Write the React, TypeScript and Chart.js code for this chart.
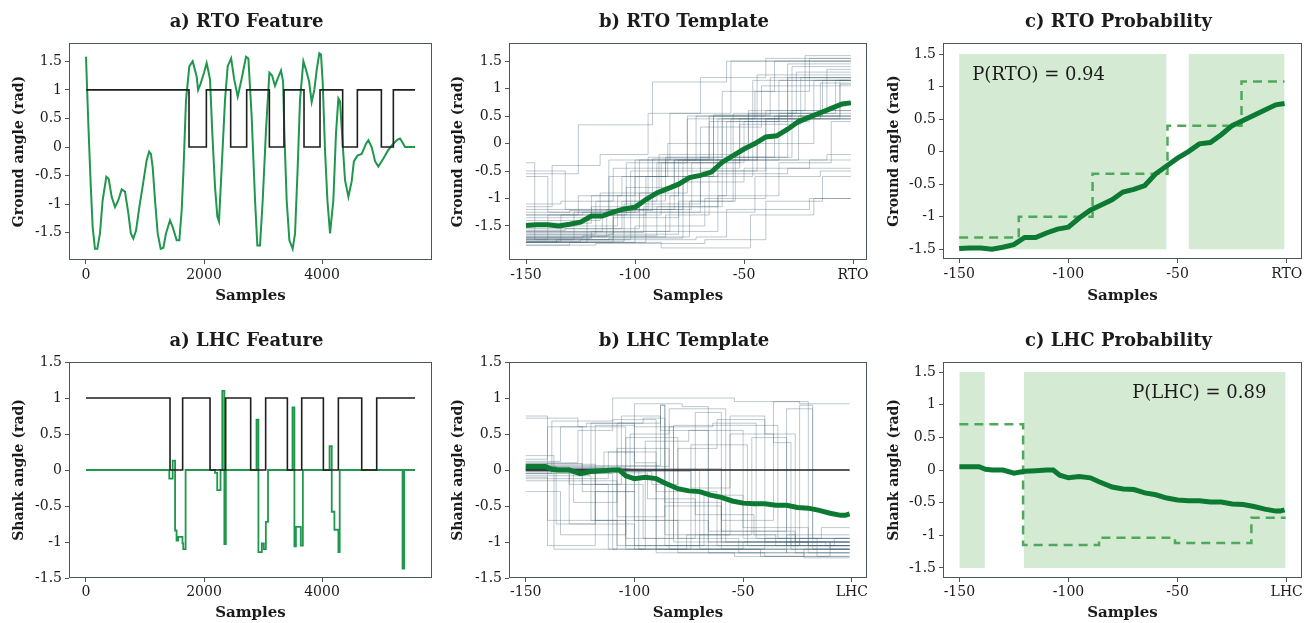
import React, { useEffect, useRef } from 'react';
import { Chart, registerables } from 'chart.js';
Chart.register(...registerables);

const SERIF = '"DejaVu Serif", "Liberation Serif", serif';
const TEXT = '#1b1b1b';
const FRAME = '#4a565b';
const GREEN_FEAT = '#1f974d';
const GREEN_MEAN = '#0c7a32';
const GREEN_DASH = '#4fa95a';
const SHADE = '#d4ead3';
const TRACE = 'rgba(65,95,110,0.34)';
const BLACK = '#1e1e1e';

// ---------- tick labels ----------
const featureXTicks = [0, 2000, 4000];
const featureXLabels = ['0', '2000', '4000'];
const windowXTicks = [-150, -100, -50, 0];
const rtoXLabels = ['-150', '-100', '-50', 'RTO'];
const lhcXLabels = ['-150', '-100', '-50', 'LHC'];
const yTicks = [-1.5, -1, -0.5, 0, 0.5, 1, 1.5];
const yLabels = ['-1.5', '-1', '-0.5', '0', '0.5', '1', '1.5'];
const TEMPLATE_END = -1;

// ---------- a) RTO feature ----------
const rtoFeatureAngle = [
  [0, 1.58], [40, 0.39], [79, -0.64], [113, -1.4], [152, -1.78], [192, -1.78], [237, -1.51], [282, -0.93],
  [345, -0.52], [385, -0.56], [435, -0.87], [492, -1.05], [548, -0.93], [605, -0.74], [661, -0.78],
  [718, -1.16], [760, -1.51], [802, -1.6], [848, -1.46], [904, -1.05], [972, -0.61], [1028, -0.23],
  [1070, -0.08], [1100, -0.12], [1130, -0.35], [1170, -0.93], [1215, -1.51], [1266, -1.78], [1311, -1.76],
  [1356, -1.51], [1424, -1.28], [1469, -1.4], [1537, -1.63], [1582, -1.63], [1622, -1.1], [1650, -0.46],
  [1695, 0.82], [1751, 1.41], [1808, 1.5], [1876, 1.23], [1900, 1.0], [1940, 1.1], [2000, 1.3],
  [2045, 1.47], [2080, 1.3], [2102, 1.18], [2141, 0.24], [2187, -0.7], [2226, -1.22], [2254, -1.3],
  [2300, -0.35], [2356, 0.82], [2401, 1.41], [2460, 1.55], [2509, 1.2], [2571, 0.88], [2639, 1.2],
  [2712, 1.58], [2752, 1.55], [2808, 0.53], [2865, -0.93], [2904, -1.72], [2949, -1.72], [2995, -0.93],
  [3051, 0.3], [3108, 1.3], [3153, 1.25], [3203, 1.07], [3250, 1.2], [3305, 1.34], [3340, 1.15],
  [3362, 0.24], [3401, -0.93], [3447, -1.63], [3503, -1.78], [3543, -1.51], [3588, -0.35], [3627, 0.82],
  [3684, 1.5], [3729, 1.35], [3780, 1.15], [3825, 0.79], [3870, 1.0], [3910, 1.35], [3955, 1.64],
  [3983, 1.62], [4012, 1.12], [4051, -0.05], [4091, -0.93], [4136, -1.51], [4192, -0.93], [4237, 0.24],
  [4277, 0.85], [4305, 0.8], [4350, 0.06], [4390, -0.58], [4447, -0.87], [4503, -0.6], [4540, -0.25],
  [4600, -0.15], [4673, -0.12], [4746, 0.06], [4786, 0.12], [4842, 0.0], [4900, -0.25], [4955, -0.34],
  [5040, -0.2], [5124, -0.05], [5200, 0.05], [5280, 0.13], [5322, 0.15], [5351, 0.1], [5407, 0.0], [5577, 0.0],
];
const rtoFeatureGate = [
  [0, 1], [1746, 0], [2040, 1], [2452, 0], [2723, 1], [3108, 0], [3356, 1], [3695, 0], [3966, 1],
  [4350, 0], [4599, 1], [5006, 0], [5209, 1], [5577, 1],
];

// ---------- a) LHC feature ----------
const lhcFeatureAngle = [
  [0, 0], [1412, -0.12], [1469, 0.13], [1510, -0.84], [1535, -0.98], [1562, -0.93], [1635, -1.02],
  [1648, -1.1], [1688, 0], [2187, -0.04], [2224, -0.28], [2280, 0], [2310, 1.1], [2345, -1.03],
  [2370, 0], [2890, 0.7], [2922, -1.14], [2980, -1.02], [3013, -1.1], [3048, -0.72], [3085, 0],
  [3500, 0.87], [3532, -1.06], [3558, -0.79], [3640, -1.05], [3675, 0], [4128, 0.33], [4165, -0.58],
  [4210, -0.83], [4278, -1.14], [4300, 0], [5365, -1.37], [5393, 0], [5577, 0],
];
const lhcFeatureGate = [
  [0, 1], [1424, 0], [1638, 1], [2102, 0], [2367, 1], [2791, 0], [3045, 1], [3413, 0], [3656, 1],
  [4023, 0], [4277, 1], [4673, 0], [4927, 1], [5577, 1],
];

// ---------- b) RTO template: individual windows (switch sample, level, ...) ----------
const rtoTemplateTraces = [
  [-150, -1.8, -122, -1.3, -88, -0.35, -52, 0.45, -18, 1.15],
  [-150, -1.75, -128, -1.25, -100, -0.6, -64, 0.5, -30, 1.2],
  [-150, -1.7, -113, -1.2, -82, -0.3, -48, 0.55, -12, 1.35],
  [-150, -1.78, -105, -1.1, -70, -0.25, -36, 0.5, -6, 1.15],
  [-150, -1.65, -118, -1.05, -90, -0.35, -60, 0.95, -36, 1.5],
  [-150, -0.35, -146, -1.75, -110, -1.2, -78, -0.3, -40, 0.45],
  [-150, -0.55, -126, 0.34, -92, 1.12, -58, 1.5],
  [-150, -0.6, -140, -1.25, -112, -0.6, -85, 0.0, -48, 0.6, -22, 1.6],
  [-150, -1.85, -130, -1.8, -95, -1.25, -70, -0.5, -40, 0.45, -15, 1.1],
  [-150, -1.8, -100, -1.7, -75, -1.05, -55, -0.3, -25, 0.5],
  [-150, -1.72, -120, -1.6, -84, -0.95, -58, -0.25, -30, 0.55],
  [-150, -1.6, -115, -1.3, -95, -0.6, -62, 0.45, -30, 1.45],
  [-150, -1.5, -108, -0.95, -80, -0.3, -44, 0.5, -14, 1.15],
  [-150, -1.4, -116, -0.9, -89, -0.2, -55, 0.55, -26, 1.3],
  [-150, -1.3, -124, -1.25, -98, -0.3, -66, 0.4, -34, 1.15],
  [-150, -1.2, -120, -1.15, -102, -0.5, -70, 0.3, -42, 1.05],
  [-150, -1.1, -134, -1.05, -110, -0.45, -76, 0.45, -45, 0.95, -20, 1.55],
  [-150, -1.78, -125, -1.75, -72, -1.7, -58, -1.2, -20, -1.0],
  [-150, -1.8, -88, -1.9, -47, -1.3, -18, -1.0],
  [-150, -1.75, -112, -1.72, -78, -1.25, -45, -0.6, -15, -0.5],
  [-150, -1.7, -100, -1.5, -68, -1.0, -40, -0.3, -12, -0.2],
  [-150, -1.65, -110, -1.35, -80, -0.7, -50, -0.45, -20, -0.3],
  [-150, -1.6, -96, -1.15, -62, -0.55, -30, -0.45],
  [-150, -1.55, -106, -1.05, -86, -0.3, -58, 0.4, -30, 0.45],
  [-150, -1.45, -120, -1.2, -94, -0.25, -66, 0.5, -40, 0.6],
  [-150, -1.35, -118, -1.3, -104, -0.35, -76, 0.5, -46, 1.15],
  [-150, -1.25, -130, -1.22, -92, -0.28, -64, 0.52, -38, 1.2],
  [-150, -1.78, -134, -1.3, -112, -0.3, -84, 0.55, -56, 1.5],
  [-150, -1.8, -136, -1.75, -102, -1.2, -74, -0.35, -50, 0.4, -20, 0.5],
  [-150, -1.72, -124, -1.68, -90, -1.15, -60, -0.3, -34, 0.55, -8, 1.15],
  [-150, -1.68, -112, -1.65, -80, -1.05, -54, -0.25, -28, 0.45, -6, 1.08],
  [-150, -1.62, -96, -1.6, -62, -0.95, -34, -0.35, -10, 0.4],
  [-150, -1.85, -118, -1.82, -68, -1.75, -40, -1.05, -14, -0.6],
  [-150, -1.75, -140, -1.3, -120, -0.95, -100, -0.3, -72, 0.5, -44, 1.25],
  [-150, -0.5, -132, -1.2, -104, -0.8, -82, -0.3, -56, 0.45, -28, 1.4],
  [-150, -1.15, -138, -0.4, -116, -0.2, -94, 0.55, -70, 1.2, -40, 1.55],
  [-150, -1.3, -126, -0.95, -106, -0.6, -86, -0.25, -60, 0.45, -34, 0.5],
  [-150, -1.58, -132, -1.55, -98, -0.9, -76, -0.45, -52, 0.35, -24, 1.2],
  [-150, -1.8, -110, -1.25, -78, -0.6, -46, 0.5, -28, 0.6],
  [-150, -1.72, -120, -1.7, -86, -1.3, -66, -0.5, -44, 0.0, -18, 0.45],
];

// ---------- b) LHC template: individual windows ----------
const lhcTemplateTraces = [
  [-150, 0.75, -140, -0.7, -108, -1.05, -60, -1.1],
  [-150, 0.72, -126, 0.6, -104, -1.1, -50, -1.0],
  [-150, 0.2, -137, -1.1, -108, 0.65, -88, 0.9, -86, -1.05],
  [-150, 0.15, -140, 0.6, -122, 0.65, -100, 0.1, -90, -1.1, -30, -1.15],
  [-150, 0.05, -136, -0.75, -118, 0.62, -100, 0.6, -82, -1.0, -12, -1.05],
  [-150, -0.1, -140, -1.05, -118, -0.3, -100, -1.1],
  [-150, 0.1, -126, 0.55, -110, 1.0, -54, 0.95, -20, 0.92],
  [-150, 0.0, -120, 0.65, -96, 0.72, -86, -0.45, -60, -1.05, -30, -0.9],
  [-150, -0.3, -134, -0.9, -104, 0.45, -80, -1.15, -40, -1.2],
  [-150, 0.08, -118, -0.2, -106, 0.75, -88, 0.55, -66, -0.85, -26, -1.0],
  [-150, 0.02, -102, 0.5, -84, 0.85, -70, 0.85, -58, -1.0, -10, -1.1],
  [-150, -0.05, -110, -1.1, -95, 0.4, -75, 0.55, -50, -0.8, -20, -1.05],
  [-150, 0.12, -134, 0.6, -124, -0.2, -96, -0.95, -72, 0.8, -60, -1.0],
  [-150, 0.0, -98, -1.1, -74, 0.35, -48, -1.05, -24, 0.9, -18, -0.95],
  [-150, -0.02, -92, -0.2, -80, 0.3, -62, 0.7, -40, 0.5, -26, -1.15],
  [-150, 0.04, -130, -0.75, -100, -1.05, -70, -0.9, -35, -1.05],
  [-150, 0.06, -88, 0.9, -86, -0.9, -56, 0.75, -40, -1.0],
  [-150, -0.12, -112, 0.25, -90, -0.7, -66, -1.15, -30, -1.0],
  [-150, 0.03, -104, -0.95, -82, 0.62, -52, 0.62, -34, -0.95, -16, -1.2],
  [-150, 0.0, -118, -0.7, -90, -1.15, -54, -1.2, -22, -1.1],
  [-150, -0.05, -138, 0.68, -110, 0.7, -90, -0.3, -62, -1.05, -24, -0.95],
  [-150, 0.09, -124, -0.3, -100, 0.92, -78, 0.88, -66, -1.0, -20, -1.05],
  [-150, -0.15, -108, -0.65, -86, -0.5, -60, -0.85, -30, 0.85, -18, -1.1],
  [-150, 0.01, -96, 0.0, -70, -1.1, -42, -1.2, -10, -1.0],
  [-150, 0.0, -130, -0.2, -112, -1.1, -76, -0.9, -46, 0.45, -30, -1.05],
  [-150, 0.05, -84, 0.6, -64, 0.65, -44, -0.95, -14, -0.8],
  [-150, -0.02, -74, -0.25, -56, 0.5, -36, 0.38, -28, -1.1],
  [-150, 0.03, -114, 0.25, -100, -0.7, -80, -0.95, -52, -1.15, -22, -1.22],
  [-150, -0.08, -120, -0.7, -104, -1.05, -68, -0.35, -50, -0.95, -28, -1.05],
  [-150, 0.02, -60, -0.7, -36, 0.95, -24, 0.92, -20, -1.15],
  [-150, -0.04, -94, -0.4, -72, -0.62, -45, -0.9, -26, -1.05, -8, -0.95],
  [-150, 0.0, -128, -0.45, -108, 0.3, -84, -1.1, -40, -0.95],
];

// ---------- template means ----------
const rtoMean = [
  [-150, -1.49], [-145, -1.48], [-140, -1.48], [-135, -1.5], [-130, -1.47], [-125, -1.43], [-120, -1.32],
  [-115, -1.32], [-110, -1.25], [-105, -1.19], [-100, -1.16], [-95, -1.02], [-90, -0.9], [-85, -0.82],
  [-80, -0.74], [-75, -0.62], [-70, -0.58], [-65, -0.52], [-60, -0.34], [-55, -0.22], [-50, -0.1],
  [-45, 0.0], [-40, 0.12], [-35, 0.14], [-30, 0.26], [-25, 0.4], [-20, 0.48], [-15, 0.56], [-10, 0.64],
  [-5, 0.72], [-1, 0.74],
];
const lhcMean = [
  [-150, 0.05], [-145, 0.05], [-141, 0.05], [-138, 0.01], [-135, 0.0], [-130, 0.0], [-125, -0.05],
  [-120, -0.02], [-115, -0.01], [-110, 0.0], [-107, 0.0], [-104, -0.08], [-100, -0.12], [-95, -0.1],
  [-90, -0.12], [-86, -0.18], [-80, -0.26], [-75, -0.29], [-70, -0.3], [-65, -0.35], [-60, -0.38],
  [-55, -0.43], [-50, -0.46], [-45, -0.47], [-40, -0.47], [-35, -0.49], [-30, -0.49], [-25, -0.52],
  [-20, -0.53], [-15, -0.56], [-10, -0.6], [-5, -0.63], [-3, -0.63], [-1, -0.61],
];
const lhcZero = [[-150, 0], [-1, 0]];

// ---------- c) probability panels ----------
const rtoMatchRegions = [[-150, -55], [-45, -1]];
const lhcMatchRegions = [[-150, -138.3], [-120.5, -0.5]];
const rtoStepFit = [[-150, -1.32], [-122.7, -1.0], [-88.9, -0.34], [-54.6, 0.4], [-20.7, 1.08], [-1, 1.08]];
const lhcStepFit = [[-150, 0.7], [-120.8, -1.15], [-86, -1.04], [-51.2, -1.12], [-16.2, -0.73], [-0.5, -0.73]];
const shadeBounds = [-1.5, 1.5];
const rtoProbText = { text: 'P(RTO) = 0.94', x: -144, y: 1.1 };
const lhcProbText = { text: 'P(LHC) = 0.89', x: -70.8, y: 1.1 };

// ---------- helpers ----------
type Pt = { x: number; y: number };
const toPts = (arr: number[][]): Pt[] => arr.map(([x, y]) => ({ x, y }));
const traceToPts = (flat: number[]): Pt[] => {
  const pts: Pt[] = [];
  for (let i = 0; i < flat.length; i += 2) pts.push({ x: flat[i], y: flat[i + 1] });
  pts.push({ x: TEMPLATE_END, y: flat[flat.length - 1] });
  return pts;
};
const line = (data: Pt[], color: string, width: number, extra: any = {}) => ({
  data, borderColor: color, backgroundColor: color, borderWidth: width, pointRadius: 0,
  pointHoverRadius: 0, fill: false, tension: 0, ...extra,
});
const shadeSets = (regions: number[][]) => regions.map(([a, b]) => ({
  data: [{ x: a, y: shadeBounds[1] }, { x: b, y: shadeBounds[1] }],
  borderWidth: 0, borderColor: 'rgba(0,0,0,0)', backgroundColor: SHADE, pointRadius: 0,
  fill: { value: shadeBounds[0] }, order: 10,
}));

const panels = [
  {
    key: 'rtoFeature', left: 0, top: 0, width: 440, height: 310, plot: [69, 43, 432, 260],
    title: 'a) RTO Feature', titleBase: 27.3, yTitle: 'Ground angle (rad)', yTitlePad: 10.6, xTitlePad: 5, xTickPad: 3,
    x: [-288, 5864], y: [-1.975, 1.82], xTicks: featureXTicks, xLabels: featureXLabels,
    datasets: [
      line(toPts(rtoFeatureAngle), GREEN_FEAT, 2, { order: 2 }),
      line(toPts(rtoFeatureGate), BLACK, 1.6, { stepped: true, order: 1 }),
    ],
  },
  {
    key: 'rtoTemplate', left: 440, top: 0, width: 430, height: 310, plot: [509, 43, 867, 260],
    title: 'b) RTO Template', titleBase: 27.3, yTitle: 'Ground angle (rad)', yTitlePad: 9.6, xTitlePad: 5, xTickPad: 3,
    x: [-157.8, 6.4], y: [-2.12, 1.83], xTicks: windowXTicks, xLabels: rtoXLabels,
    datasets: [
      ...rtoTemplateTraces.map((t) => line(traceToPts(t), TRACE, 1, { stepped: true, order: 3 })),
      line(toPts(rtoMean), GREEN_MEAN, 5, { order: 0 }),
    ],
  },
  {
    key: 'rtoProb', left: 870, top: 0, width: 444, height: 310, plot: [943, 43, 1302, 259],
    title: 'c) RTO Probability', titleBase: 27.3, yTitle: 'Ground angle (rad)', yTitlePad: 15.6, xTitlePad: 5, xTickPad: 3,
    x: [-157.4, 7], y: [-1.65, 1.67], xTicks: windowXTicks, xLabels: rtoXLabels, note: rtoProbText,
    datasets: [
      ...shadeSets(rtoMatchRegions),
      line(toPts(rtoStepFit), GREEN_DASH, 2.5, { stepped: true, borderDash: [9, 6], order: 2 }),
      line(toPts(rtoMean), GREEN_MEAN, 5, { order: 0 }),
    ],
  },
  {
    key: 'lhcFeature', left: 0, top: 310, width: 440, height: 313, plot: [69, 362, 432, 578],
    title: 'a) LHC Feature', titleBase: 36, yTitle: 'Shank angle (rad)', yTitlePad: 10.6, xTitlePad: 1, xTickPad: 2,
    x: [-288, 5864], y: [-1.5, 1.5], xTicks: featureXTicks, xLabels: featureXLabels,
    datasets: [
      line(toPts(lhcFeatureAngle), GREEN_FEAT, 1.8, { stepped: true, order: 2 }),
      line(toPts(lhcFeatureGate), BLACK, 1.6, { stepped: true, order: 1 }),
    ],
  },
  {
    key: 'lhcTemplate', left: 440, top: 310, width: 430, height: 313, plot: [509, 362, 867, 578],
    title: 'b) LHC Template', titleBase: 36, yTitle: 'Shank angle (rad)', yTitlePad: 9.6, xTitlePad: 1, xTickPad: 2,
    x: [-157.7, 7], y: [-1.5, 1.5], xTicks: windowXTicks, xLabels: lhcXLabels,
    datasets: [
      ...lhcTemplateTraces.map((t) => line(traceToPts(t), TRACE, 1, { stepped: true, order: 3 })),
      line(toPts(lhcZero), BLACK, 1.5, { order: 1 }),
      line(toPts(lhcMean), GREEN_MEAN, 5, { order: 0 }),
    ],
  },
  {
    key: 'lhcProb', left: 870, top: 310, width: 444, height: 313, plot: [943, 362, 1302, 578],
    title: 'c) LHC Probability', titleBase: 36, yTitle: 'Shank angle (rad)', yTitlePad: 15.6, xTitlePad: 1, xTickPad: 2,
    x: [-157.5, 7], y: [-1.655, 1.655], xTicks: windowXTicks, xLabels: lhcXLabels, note: lhcProbText,
    datasets: [
      ...shadeSets(lhcMatchRegions),
      line(toPts(lhcStepFit), GREEN_DASH, 2.5, { stepped: true, borderDash: [9, 6], order: 2 }),
      line(toPts(lhcMean), GREEN_MEAN, 5, { order: 0 }),
    ],
  },
];

function Panel({ cfg }: { cfg: any }) {
  const ref = useRef<HTMLCanvasElement>(null);
  useEffect(() => {
    const c = cfg;
    const Lw = c.plot[0] - c.left;
    const T = c.plot[1] - c.top;
    const R = c.left + c.width - c.plot[2];
    const Bh = c.top + c.height - c.plot[3];
    const decor = {
      id: 'decor',
      afterDraw(chart: any) {
        const { ctx, chartArea: a } = chart;
        ctx.save();
        ctx.strokeStyle = FRAME;
        ctx.lineWidth = 1;
        ctx.strokeRect(Math.round(a.left) + 0.5, Math.round(a.top) + 0.5, Math.round(a.right - a.left) - 1, Math.round(a.bottom - a.top) - 1);
        ctx.fillStyle = TEXT;
        ctx.textBaseline = 'alphabetic';
        ctx.textAlign = 'center';
        ctx.font = `bold 18px ${SERIF}`;
        ctx.fillText(c.title, (a.left + a.right) / 2 - 4, c.titleBase);
        if (c.note) {
          ctx.font = `18px ${SERIF}`;
          ctx.textAlign = 'left';
          ctx.fillText(c.note.text, chart.scales.x.getPixelForValue(c.note.x), chart.scales.y.getPixelForValue(c.note.y));
        }
        ctx.restore();
      },
    };
    const grid = { display: true, drawOnChartArea: false, drawTicks: true, tickLength: 4, color: FRAME, lineWidth: 1 };
    const chart = new Chart(ref.current as HTMLCanvasElement, {
      type: 'line',
      data: { datasets: c.datasets },
      options: {
        responsive: false,
        animation: false,
        events: [],
        layout: { padding: { top: T, right: R, left: 0, bottom: 0 } },
        plugins: { legend: { display: false }, tooltip: { enabled: false }, title: { display: false } },
        scales: {
          x: {
            type: 'linear', min: c.x[0], max: c.x[1],
            afterBuildTicks: (s: any) => { s.ticks = c.xTicks.map((v: number) => ({ value: v })); },
            ticks: {
              autoSkip: false, maxRotation: 0, minRotation: 0, padding: c.xTickPad, color: TEXT,
              font: { family: SERIF, size: 14 },
              callback: (v: any) => c.xLabels[c.xTicks.indexOf(Number(v))] ?? '',
            },
            grid, border: { display: false },
            title: { display: true, text: 'Samples', color: TEXT, font: { family: SERIF, size: 15, weight: 'bold' }, padding: { top: 0, bottom: c.xTitlePad } },
            afterFit: (s: any) => { s.height = Bh; s.paddingLeft = 0; s.paddingRight = 0; },
          },
          y: {
            type: 'linear', min: c.y[0], max: c.y[1],
            afterBuildTicks: (s: any) => { s.ticks = yTicks.map((v) => ({ value: v })); },
            ticks: {
              autoSkip: false, padding: 3, color: TEXT, font: { family: SERIF, size: 14 },
              callback: (v: any) => yLabels[yTicks.indexOf(Number(v))] ?? '',
            },
            grid, border: { display: false },
            title: { display: true, text: c.yTitle, color: TEXT, font: { family: SERIF, size: 14, weight: 'bold' }, padding: { top: c.yTitlePad, bottom: 0 } },
            afterFit: (s: any) => { s.width = Lw; s.paddingTop = 0; s.paddingBottom = 0; },
          },
        },
      } as any,
      plugins: [decor],
    });
    return () => chart.destroy();
  }, []);
  return (
    <canvas
      ref={ref}
      width={cfg.width}
      height={cfg.height}
      style={{ position: 'absolute', left: cfg.left, top: cfg.top, width: cfg.width, height: cfg.height, display: 'block' }}
    />
  );
}

export default function App() {
  return (
    <div style={{ position: 'absolute', left: 0, top: 0, width: 1314, height: 623, background: '#ffffff', overflow: 'hidden' }}>
      {panels.map((p) => <Panel key={p.key} cfg={p} />)}
    </div>
  );
}
